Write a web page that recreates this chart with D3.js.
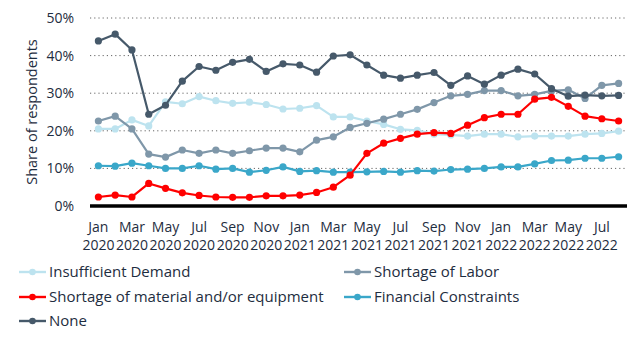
<!DOCTYPE html>
<html>
<head>
<meta charset="utf-8">
<script src="https://cdn.jsdelivr.net/npm/d3@7"></script>
<style>
	body { margin: 0; background: #fff; }
	svg { display: block; font-family: "Open Sans", sans-serif; }
</style>
</head>
<body>
<svg id="chart" width="642" height="339"></svg>
<script>
const months = ["Jan","Feb","Mar","Apr","May","Jun","Jul","Aug","Sep","Oct","Nov","Dec"];
const dates = d3.range(32).map((i) => `${months[i % 12]} ${2020 + Math.floor(i / 12)}`);

const insufficientDemand = [20.5, 20.5, 22.9, 21.3, 27.7, 27.2, 29.1, 28.0, 27.3, 27.6, 27.0, 25.8, 26.0, 26.7, 23.7, 23.7, 22.6, 21.7, 20.4, 20.1, 19.1, 18.9, 18.6, 19.1, 19.1, 18.4, 18.6, 18.6, 18.6, 19.1, 19.3, 19.9];
const shortageLabor = [22.6, 23.9, 20.5, 13.8, 13.0, 14.9, 14.0, 14.9, 14.0, 14.7, 15.4, 15.4, 14.4, 17.5, 18.4, 20.9, 22.0, 23.1, 24.4, 25.7, 27.5, 29.3, 29.7, 30.7, 30.7, 29.3, 29.7, 30.6, 30.9, 28.6, 32.1, 32.6];
const shortageMaterial = [2.4, 2.9, 2.4, 6.0, 4.7, 3.5, 2.8, 2.4, 2.3, 2.3, 2.7, 2.7, 2.9, 3.6, 5.0, 8.2, 14.0, 16.7, 18.0, 19.1, 19.5, 19.3, 21.5, 23.5, 24.4, 24.4, 28.4, 28.9, 26.5, 23.9, 23.2, 22.6];
const financialConstraints = [10.7, 10.6, 11.4, 10.7, 10.0, 10.0, 10.7, 9.8, 10.0, 9.0, 9.5, 10.4, 9.2, 9.4, 9.0, 9.0, 9.1, 9.2, 9.0, 9.4, 9.3, 9.7, 9.8, 10.0, 10.4, 10.4, 11.2, 12.1, 12.2, 12.7, 12.7, 13.1];
const none = [43.9, 45.7, 41.5, 24.4, 26.8, 33.2, 37.1, 36.1, 38.2, 39.0, 35.8, 37.8, 37.5, 35.6, 39.9, 40.2, 37.5, 34.8, 34.0, 34.8, 35.5, 32.1, 34.6, 32.4, 34.8, 36.4, 35.1, 31.2, 29.2, 29.5, 29.3, 29.4];

const yTicks = [0, 10, 20, 30, 40, 50];

const series = [
	{ name: "Insufficient Demand", values: insufficientDemand, color: "#bde3ef" },
	{ name: "Shortage of Labor", values: shortageLabor, color: "#7f97a9" },
	{ name: "Shortage of material and/or equipment", values: shortageMaterial, color: "#ff0000" },
	{ name: "Financial Constraints", values: financialConstraints, color: "#3aa7c9" },
	{ name: "None", values: none, color: "#46596a" },
];
// draw order: light ones behind
const drawOrder = [0, 1, 3, 2, 4];

const textColor = "#1e2d40";

const svg = d3.select("#chart");
const mLeft = 90, mRight = 627, mTop = 18, mBottom = 206;

const x = d3.scalePoint().domain(dates).range([mLeft, mRight]).padding(0.5);
const y = d3.scaleLinear().domain([0, 50]).range([mBottom, mTop]);

// grid
svg.append("g")
	.selectAll("line")
	.data(yTicks.filter((d) => d > 0))
	.join("line")
	.attr("x1", mLeft)
	.attr("x2", mRight)
	.attr("y1", (d) => y(d))
	.attr("y2", (d) => y(d))
	.attr("stroke", "#666")
	.attr("stroke-width", 1)
	.attr("stroke-dasharray", "1.2,3");

// y labels
svg.append("g")
	.attr("fill", textColor)
	.attr("font-size", 14)
	.attr("text-anchor", "end")
	.selectAll("text")
	.data(yTicks)
	.join("text")
	.attr("x", 74)
	.attr("y", (d) => y(d) + 5)
	.text((d) => d + "%");

svg.append("text")
	.attr("transform", `translate(37,112) rotate(-90)`)
	.attr("text-anchor", "middle")
	.attr("fill", textColor)
	.attr("font-size", 14.5)
	.text("Share of respondents");

// x labels
const gx = svg.append("g").attr("fill", textColor).attr("font-size", 14).attr("text-anchor", "middle");
const labelDates = dates.filter((d, i) => i % 2 === 0);
labelDates.forEach((d) => {
	const [m, yr] = d.split(" ");
	gx.append("text").attr("x", x(d)).attr("y", 232).text(m);
	gx.append("text").attr("x", x(d)).attr("y", 250).text(yr);
});

// lines
const line = d3.line()
	.x((d, i) => x(dates[i]))
	.y((d) => y(d));

const gLines = svg.append("g");
drawOrder.forEach((k) => {
	const s = series[k];
	const g = gLines.append("g");
	g.append("path")
		.attr("d", line(s.values))
		.attr("fill", "none")
		.attr("stroke", s.color)
		.attr("stroke-width", 2.2)
		.attr("stroke-linejoin", "round");
	g.selectAll("circle")
		.data(s.values)
		.join("circle")
		.attr("cx", (d, i) => x(dates[i]))
		.attr("cy", (d) => y(d))
		.attr("r", 3.6)
		.attr("fill", s.color);
});

// axis baseline
svg.append("line")
	.attr("x1", mLeft)
	.attr("x2", mRight)
	.attr("y1", mBottom)
	.attr("y2", mBottom)
	.attr("stroke", "#000")
	.attr("stroke-width", 3.5);

// legend
const legendPos = [[19, 272], [344, 272], [19, 297], [344, 297], [19, 321]];
const gl = svg.append("g").attr("fill", textColor).attr("font-size", 15);
series.forEach((s, i) => {
	const [lx, ly] = legendPos[i];
	gl.append("line")
		.attr("x1", lx)
		.attr("x2", lx + 27)
		.attr("y1", ly)
		.attr("y2", ly)
		.attr("stroke", s.color)
		.attr("stroke-width", 2.4);
	gl.append("circle")
		.attr("cx", lx + 13.5)
		.attr("cy", ly)
		.attr("r", 3.3)
		.attr("fill", s.color);
	gl.append("text")
		.attr("x", lx + 30)
		.attr("y", ly + 5)
		.text(s.name);
});
</script>
</body>
</html>
